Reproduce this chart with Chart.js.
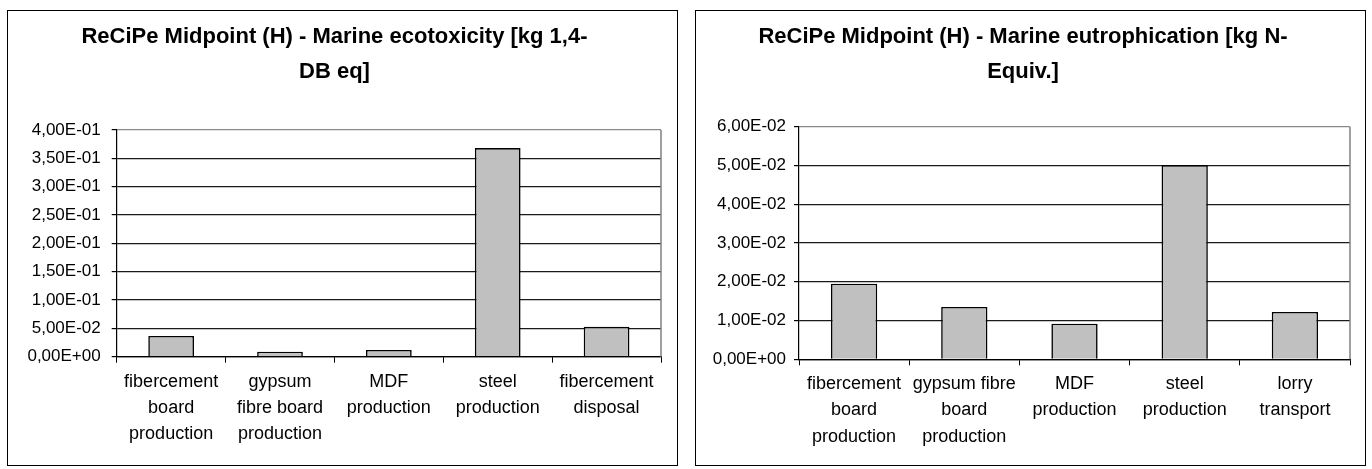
<!DOCTYPE html>
<html>
<head>
<meta charset="utf-8">
<script src="https://cdn.jsdelivr.net/npm/chart.js@4.4.0/dist/chart.umd.min.js"></script>
<style>
  html, body { margin: 0; padding: 0; background: #fff; width: 1372px; height: 469px; overflow: hidden; }
  .panel { position: absolute; top: 10px; width: 671px; height: 456px; border: 1px solid #000; box-sizing: border-box; background: #fff; }
  #p1 { left: 7px; }
  #p2 { left: 695px; }
  .panel canvas { position: absolute; left: 0; top: 0; }
</style>
</head>
<body>
<div class="panel" id="p1"><canvas id="c1" width="669" height="454"></canvas></div>
<div class="panel" id="p2"><canvas id="c2" width="669" height="454"></canvas></div>
<script>
// Marine ecotoxicity panel
const ecoTitle = ['ReCiPe Midpoint (H) - Marine ecotoxicity [kg 1,4-', 'DB eq]'];
const ecoCategories = [
  ['fibercement', 'board', 'production'],
  ['gypsum', 'fibre board', 'production'],
  ['MDF', 'production'],
  ['steel', 'production'],
  ['fibercement', 'disposal']
];
const ecoValues = [0.0365, 0.0088, 0.0118, 0.368, 0.0530];
const ecoTicks = ['0,00E+00', '5,00E-02', '1,00E-01', '1,50E-01', '2,00E-01', '2,50E-01', '3,00E-01', '3,50E-01', '4,00E-01'];

// Marine eutrophication panel
const eutTitle = ['ReCiPe Midpoint (H) - Marine eutrophication [kg N-', 'Equiv.]'];
const eutCategories = [
  ['fibercement', 'board', 'production'],
  ['gypsum fibre', 'board', 'production'],
  ['MDF', 'production'],
  ['steel', 'production'],
  ['lorry', 'transport']
];
const eutValues = [0.0195, 0.0135, 0.0092, 0.0501, 0.0122];
const eutTicks = ['0,00E+00', '1,00E-02', '2,00E-02', '3,00E-02', '4,00E-02', '5,00E-02', '6,00E-02'];

const FONT = 'Liberation Sans, Arial, sans-serif';

// grey frame line on the right side of the plot area
const plotFrame = {
  id: 'plotFrame',
  beforeDatasetsDraw(chart) {
    const a = chart.chartArea, ctx = chart.ctx;
    ctx.save();
    ctx.strokeStyle = '#808080';
    ctx.lineWidth = 1.5;
    ctx.beginPath();
    ctx.moveTo(a.right, a.top);
    ctx.lineTo(a.right, a.bottom);
    ctx.stroke();
    ctx.restore();
  }
};

function makeChart(id, title, cats, vals, ticks, step, geo) {
  const maxV = step * (ticks.length - 1);
  return new Chart(document.getElementById(id), {
    type: 'bar',
    data: {
      labels: cats,
      datasets: [{
        data: vals,
        backgroundColor: '#c0c0c0',
        borderColor: '#000',
        borderWidth: 1.6,
        barPercentage: 0.42,
        categoryPercentage: 1.0
      }]
    },
    options: {
      responsive: false,
      animation: false,
      devicePixelRatio: 1,
      layout: { padding: { left: 0, right: geo.right, top: 0, bottom: 0 } },
      plugins: {
        legend: { display: false },
        tooltip: { enabled: false },
        title: {
          display: true,
          text: title,
          color: '#000',
          font: { family: FONT, size: 22, weight: 'bold', lineHeight: 1.59 },
          padding: { top: 8.5, bottom: geo.titleBottom }
        }
      },
      scales: {
        x: {
          offset: true,
          grid: { display: true, offset: true, drawOnChartArea: false, drawTicks: true, tickLength: 6, color: '#000', lineWidth: 1 },
          border: { display: true, color: '#000', width: 1.2 },
          ticks: {
            color: '#000', padding: 6, autoSkip: false, maxRotation: 0, minRotation: 0,
            font: { family: FONT, size: 18, lineHeight: 1.45 }
          },
          afterFit(s) { s.height = geo.xh; }
        },
        y: {
          min: 0, max: maxV,
          ticks: {
            stepSize: step, color: '#000', padding: geo.ypad,
            font: { family: FONT, size: 17 },
            callback: (v, i) => ticks[i]
          },
          grid: {
            drawTicks: true, tickLength: 5, tickColor: '#000', lineWidth: 1.2,
            color: (c) => (c.tick && Math.abs(c.tick.value - maxV) < 1e-9) ? '#8a8a8a' : '#1a1a1a'
          },
          border: { display: true, color: '#000', width: 1.2 },
          afterFit(s) { s.width = geo.yw; }
        }
      }
    },
    plugins: [plotFrame]
  });
}

makeChart('c1', ecoTitle, ecoCategories, ecoValues, ecoTicks, 0.05,
  { yw: 108.7, xh: 108.3, right: 16, titleBottom: 40.5, ypad: 11 });
makeChart('c2', eutTitle, eutCategories, eutValues, eutTicks, 0.01,
  { yw: 103, xh: 105.7, right: 15, titleBottom: 37.2, ypad: 8 });
</script>
</body>
</html>
